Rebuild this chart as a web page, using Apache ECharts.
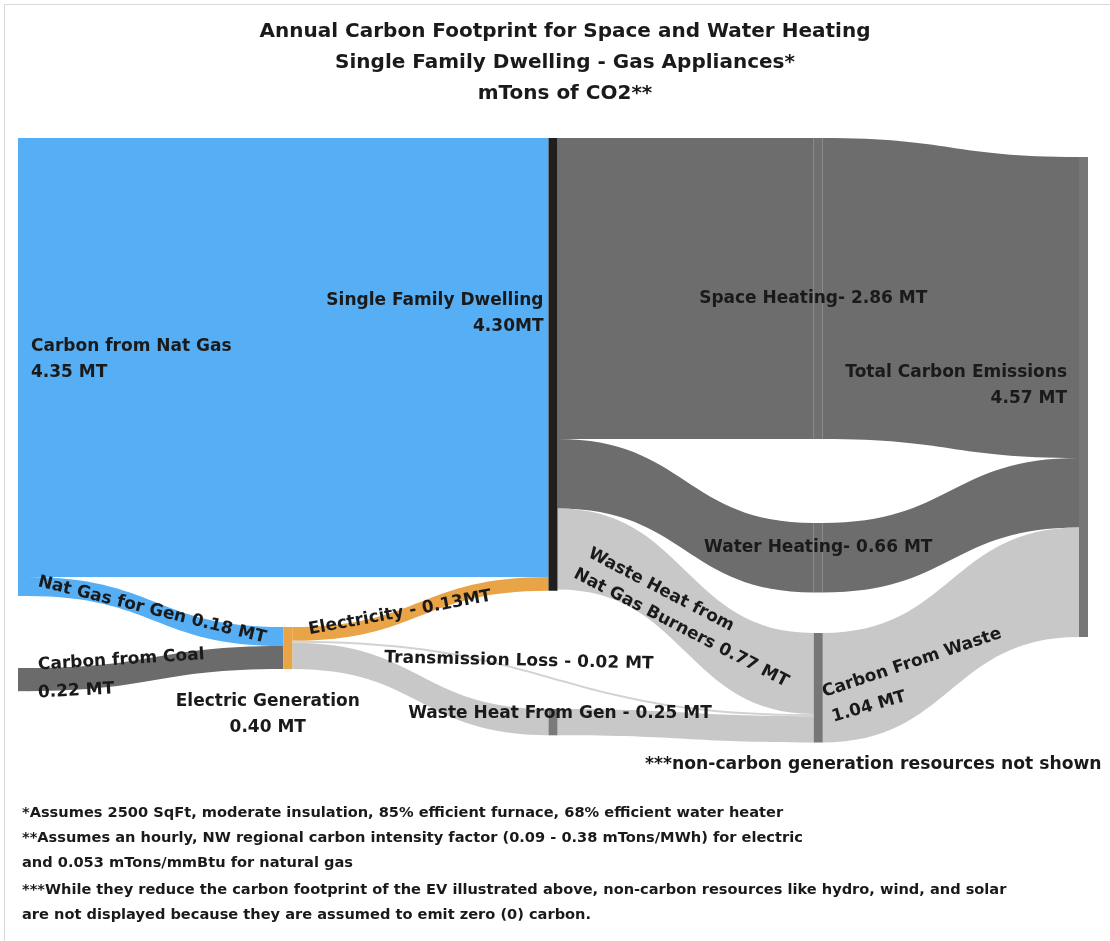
<!DOCTYPE html>
<html><head><meta charset="utf-8">
<script src="https://cdn.jsdelivr.net/npm/echarts@6/dist/echarts.min.js"></script>
<style>html,body{margin:0;padding:0;background:#fff}#c{width:1110px;height:941px}</style>
</head><body><div id="c"></div>
<script>
// ---- data ----
const titleLines = ['Annual Carbon Footprint for Space and Water Heating', 'Single Family Dwelling - Gas Appliances*', 'mTons of CO2**'];
const nodeNames = ['Carbon from Nat Gas', 'Carbon from Coal', 'Electric Generation', 'Single Family Dwelling', 'Waste Heat From Gen', 'Space Heating', 'Water Heating', 'Carbon From Waste', 'Total Carbon Emissions'];
const nodeLabels = ['Carbon from Nat Gas\n4.35 MT', '', 'Electric Generation\n0.40 MT', 'Single Family Dwelling\n4.30MT', '', 'Space Heating- 2.86 MT', 'Water Heating- 0.66 MT', '', 'Total Carbon Emissions\n4.57 MT'];
const linkSources = ['Carbon from Nat Gas', 'Carbon from Nat Gas', 'Carbon from Coal', 'Electric Generation', 'Single Family Dwelling', 'Single Family Dwelling', 'Single Family Dwelling', 'Electric Generation', 'Electric Generation', 'Waste Heat From Gen', 'Space Heating', 'Water Heating', 'Carbon From Waste'];
const linkTargets = ['Single Family Dwelling', 'Electric Generation', 'Electric Generation', 'Single Family Dwelling', 'Space Heating', 'Water Heating', 'Carbon From Waste', 'Carbon From Waste', 'Waste Heat From Gen', 'Carbon From Waste', 'Total Carbon Emissions', 'Total Carbon Emissions', 'Total Carbon Emissions'];
const linkValues = [4.17, 0.18, 0.22, 0.13, 2.86, 0.66, 0.77, 0.02, 0.25, 0.25, 2.86, 0.66, 1.04];
const flowLabels = ['Nat Gas for Gen 0.18 MT', 'Carbon from Coal', '0.22 MT', 'Electricity - 0.13MT', 'Transmission Loss - 0.02 MT', 'Waste Heat From Gen - 0.25 MT', 'Waste Heat from', 'Nat Gas Burners 0.77 MT', 'Carbon From Waste', '1.04 MT'];
const noteRight = '***non-carbon generation resources not shown';
const footnotes = [
  '*Assumes 2500 SqFt, moderate insulation, 85% efficient furnace, 68% efficient water heater',
  '**Assumes an hourly, NW regional carbon intensity factor (0.09 - 0.38 mTons/MWh) for electric',
  'and 0.053 mTons/mmBtu for natural gas',
  '***While they reduce the carbon footprint of the EV illustrated above, non-carbon resources like hydro, wind, and solar',
  'are not displayed because they are assumed to emit zero (0) carbon.'
];

// ---- styling / layout ----
const FONT = '"DejaVu Sans", "Liberation Sans", sans-serif';
const BLUE = '#56aef4', DARK = '#6d6d6d', LIGHT = '#c8c8c8', ORANGE = '#e9a447';
const nodeStyle = {
  'Carbon from Nat Gas':   {color: BLUE,   y: 0, label: {position: 'right', distance: 4, offset: [0, -7]}},
  'Carbon from Coal':      {color: '#6b6b6b', y: 530 / 600},
  'Electric Generation':   {color: ORANGE, y: 489 / 600, label: {position: 'bottom', offset: [-20, 14], align: 'center'}},
  'Single Family Dwelling':{color: '#1f1f1f', y: 0, label: {position: 'left', distance: 5, offset: [0, -51]}},
  'Waste Heat From Gen':   {color: '#7a7a7a', y: 571 / 600},
  'Space Heating':         {color: '#707070', y: 0, label: {position: 'inside', offset: [-5, 10]}},
  'Water Heating':         {color: '#707070', y: 385 / 600, label: {position: 'inside', offset: [0, -10]}},
  'Carbon From Waste':     {color: '#777777', y: 495 / 600},
  'Total Carbon Emissions':{color: '#777777', y: 19 / 600, label: {position: 'left', distance: 12, offset: [0, -11]}}
};
const linkColors = [BLUE, BLUE, '#6b6b6b', ORANGE, DARK, DARK, LIGHT, '#d2d2d2', LIGHT, LIGHT, DARK, DARK, LIGHT];

const nodes = nodeNames.map((n, i) => {
  const s = nodeStyle[n];
  const lab = s.label ? Object.assign({show: true, formatter: nodeLabels[i]}, s.label) : {show: false};
  return {name: n, localY: s.y, itemStyle: {color: s.color, borderWidth: 0}, label: lab};
});
const links = linkValues.map((v, i) => ({source: linkSources[i], target: linkTargets[i], value: v,
  lineStyle: {color: linkColors[i], opacity: 1}}));

const deg = d => d * Math.PI / 180;
const flowPos = [
  [152, 610, -14, 'center'], [38, 665, 3.5, 'left'], [38, 693, 3, 'left'], [400, 613, 10.5, 'center'],
  [519, 661, -1.3, 'center'], [560, 714, 0, 'center'], [661, 590, -27.5, 'center'], [681, 628, -27.3, 'center'],
  [912, 663, 18.5, 'center'], [869, 707, 16, 'center']
];
const txt = (text, x, y, rotDeg, align, size, weight) => ({
  type: 'text', x: x, y: y, rotation: deg(rotDeg || 0), silent: true, z: 100,
  style: {text: text, x: 0, y: 0, fill: '#1a1a1a', font: (weight || 'bold') + ' ' + size + 'px ' + FONT,
    textAlign: align, align: align, textVerticalAlign: 'middle', verticalAlign: 'middle'}
});
const graphics = [
  {type: 'rect', shape: {x: 4.5, y: 4.5, width: 1200, height: 1000}, silent: true, z: -10,
   style: {fill: '#fff', stroke: '#d9d9d9', lineWidth: 1}}
];
titleLines.forEach((t, i) => graphics.push(txt(t, 565, 32 + i * 31, 0, 'center', 20)));
flowLabels.forEach((t, i) => graphics.push(txt(t, flowPos[i][0], flowPos[i][1], flowPos[i][2], flowPos[i][3], 17)));
graphics.push(txt(noteRight, 645, 765, 0, 'left', 17.2));
const footY = [813, 838, 863, 890, 915];
footnotes.forEach((t, i) => graphics.push(txt(t, 22, footY[i], 0, 'left', 14.6)));

const chart = echarts.init(document.getElementById('c'), null, {renderer: 'canvas'});
chart.setOption({
  animation: false,
  backgroundColor: '#ffffff',
  graphic: graphics,
  series: [{
    type: 'sankey',
    left: 18, right: 22, top: 138, height: 600,
    nodeWidth: 9, nodeGap: 60, layoutIterations: 0, draggable: false,
    emphasis: {disabled: true},
    lineStyle: {curveness: 0.5, opacity: 1},
    label: {fontFamily: FONT, fontSize: 17, fontWeight: 'bold', color: '#1a1a1a', lineHeight: 26},
    data: nodes,
    links: links
  }]
});
</script></body></html>
